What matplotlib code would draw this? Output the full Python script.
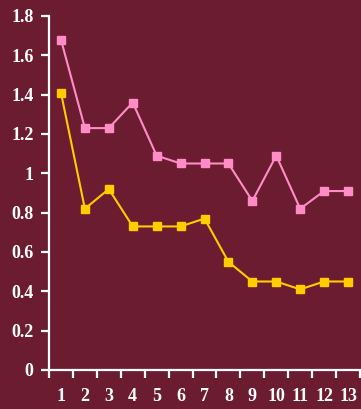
import numpy as np
import matplotlib.pyplot as plt

categories = list(range(1, 14))
pink_vals = [1.68, 1.23, 1.23, 1.36, 1.09, 1.05, 1.05, 1.05, 0.86, 1.09, 0.82, 0.91, 0.91]
yellow_vals = [1.41, 0.82, 0.92, 0.73, 0.73, 0.73, 0.77, 0.55, 0.45, 0.45, 0.41, 0.45, 0.45]
y_ticks = [0, 0.2, 0.4, 0.6, 0.8, 1, 1.2, 1.4, 1.6, 1.8]
y_labels = ['0', '0.2', '0.4', '0.6', '0.8', '1', '1.2', '1.4', '1.6', '1.8']

BG = '#6C1C31'
PINK = '#FF8CC6'
YELLOW = '#FFCC00'

fig = plt.figure(figsize=(3.61, 4.09), dpi=100, facecolor=BG)
ax = fig.add_axes([49/361, 39/409, 311/361, 354/409], facecolor=BG)

x = np.arange(len(categories))
ax.plot(x, pink_vals, color=PINK, lw=1.5, marker='s', ms=6, mec=PINK, mfc=PINK)
ax.plot(x, yellow_vals, color=YELLOW, lw=1.5, marker='s', ms=6, mec=YELLOW, mfc=YELLOW)

ax.set_xlim(-0.5, len(categories) - 0.5)
ax.set_ylim(0, 1.8)

for s in ['top', 'right']:
    ax.spines[s].set_visible(False)
for s in ['left', 'bottom']:
    ax.spines[s].set_color('white')
    ax.spines[s].set_linewidth(1.6)

font = dict(family='Liberation Serif', weight='bold', size=13, color='white')

ax.set_yticks(y_ticks)
ax.set_yticklabels(y_labels, **font)
ax.tick_params(axis='y', direction='out', length=6, width=1.6, color='white', pad=5)

# ticks sit on category boundaries, labels at category centres
ax.set_xticks(np.arange(len(categories) + 1) - 0.5)
ax.set_xticklabels([])
ax.set_xticks(x, minor=True)
ax.set_xticklabels([str(c) for c in categories], minor=True, **font)
ax.tick_params(axis='x', which='major', direction='out', length=6, width=1.6, color='white')
ax.tick_params(axis='x', which='minor', length=0, pad=13)

fig.savefig('out.png', dpi=100, facecolor=BG)
